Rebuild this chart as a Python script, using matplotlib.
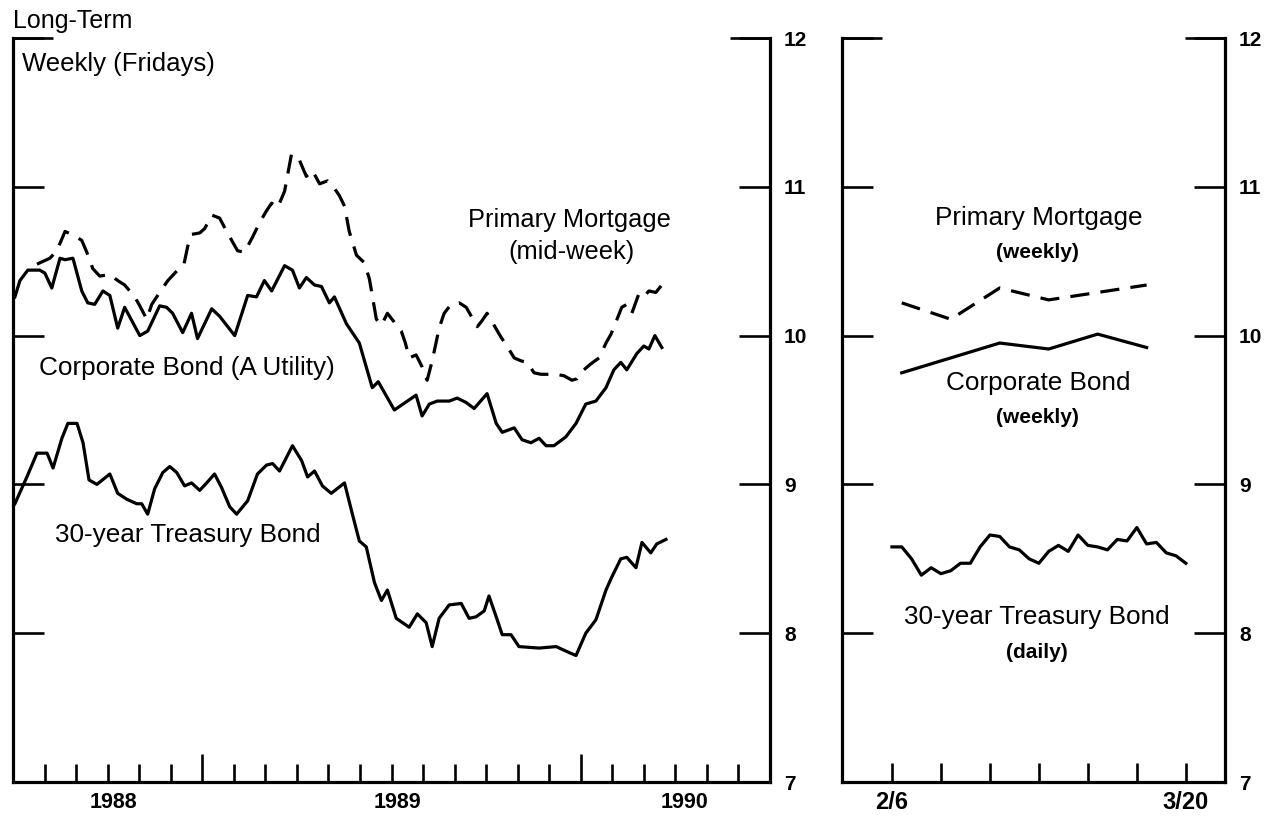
import matplotlib
matplotlib.use('Agg')
import matplotlib.pyplot as plt

plt.rcParams['font.family'] = ['Liberation Sans', 'DejaVu Sans']

# ── left panel: weekly, x = months since 1 Jul 1988 ──────────────
tsy_m = [0.06, 0.44, 0.76, 1.08, 1.27, 1.55, 1.74, 2.03, 2.22, 2.41, 2.66, 3.07,
         3.32, 3.61, 3.92, 4.08, 4.27, 4.49, 4.75, 4.97, 5.19, 5.44, 5.66, 5.92,
         6.14, 6.39, 6.61, 6.87, 7.09, 7.44, 7.75, 8.04, 8.23, 8.45, 8.86, 9.15,
         9.34, 9.56, 9.81, 10.09, 10.51, 10.76, 10.98, 11.20, 11.46, 11.68, 11.87,
         12.15, 12.56, 12.82, 13.10, 13.29, 13.51, 13.83, 14.21, 14.46, 14.68,
         14.94, 15.09, 15.32, 15.51, 15.79, 16.04, 16.68, 17.22, 17.63, 17.85,
         18.16, 18.48, 18.80, 18.99, 19.27, 19.46, 19.75, 19.94, 20.22, 20.41, 20.70]
tsy_v = [8.87, 9.05, 9.21, 9.21, 9.11, 9.31, 9.41, 9.41, 9.28, 9.03, 9.00, 9.07,
         8.94, 8.90, 8.87, 8.87, 8.80, 8.97, 9.08, 9.12, 9.08, 8.99, 9.01, 8.96,
         9.01, 9.07, 8.98, 8.85, 8.80, 8.89, 9.07, 9.13, 9.14, 9.09, 9.26, 9.16,
         9.05, 9.09, 8.99, 8.94, 9.01, 8.80, 8.62, 8.58, 8.34, 8.22, 8.29,
         8.10, 8.04, 8.13, 8.07, 7.91, 8.10, 8.19, 8.20, 8.10, 8.11,
         8.15, 8.25, 8.11, 7.99, 7.99, 7.91, 7.90, 7.91, 7.87, 7.85,
         8.00, 8.09, 8.29, 8.38, 8.50, 8.51, 8.44, 8.61, 8.54, 8.60, 8.63]

corp_m = [0.06, 0.22, 0.47, 0.85, 1.01, 1.23, 1.49, 1.65, 1.90, 2.18, 2.37, 2.59,
          2.85, 3.07, 3.32, 3.54, 4.02, 4.27, 4.65, 4.87, 5.06, 5.38, 5.66, 5.85,
          6.30, 6.55, 7.03, 7.44, 7.72, 7.97, 8.20, 8.61, 8.86, 9.08, 9.30, 9.56,
          9.78, 10.03, 10.19, 10.57, 10.98, 11.39, 11.58, 12.09, 12.78, 12.97,
          13.20, 13.45, 13.83, 14.08, 14.37, 14.62, 15.03, 15.32, 15.51, 15.89,
          16.14, 16.42, 16.68, 16.90, 17.15, 17.53, 17.85, 18.16, 18.48, 18.80,
          19.05, 19.27, 19.46, 19.78, 20.00, 20.16, 20.35, 20.57]
corp_v = [10.26, 10.37, 10.44, 10.44, 10.42, 10.32, 10.52, 10.51, 10.52, 10.30, 10.22, 10.21,
          10.30, 10.27, 10.05, 10.19, 10.00, 10.03, 10.20, 10.19, 10.15, 10.02, 10.15, 9.98,
          10.18, 10.13, 10.00, 10.27, 10.26, 10.37, 10.30, 10.47, 10.44, 10.32, 10.39, 10.34,
          10.33, 10.22, 10.26, 10.08, 9.95, 9.65, 9.69, 9.50, 9.60, 9.46,
          9.54, 9.56, 9.56, 9.58, 9.55, 9.51, 9.61, 9.41, 9.35, 9.38,
          9.30, 9.28, 9.31, 9.26, 9.26, 9.32, 9.41, 9.54, 9.56, 9.65,
          9.77, 9.82, 9.77, 9.88, 9.93, 9.91, 10.00, 9.92]

mort_m = [0.76, 1.17, 1.39, 1.65, 1.96, 2.18, 2.34, 2.53, 2.75, 3.07, 3.32, 3.54,
          3.86, 4.02, 4.24, 4.40, 4.65, 4.91, 5.22, 5.41, 5.54, 5.66, 5.92, 6.08,
          6.30, 6.55, 6.80, 7.12, 7.34, 7.59, 7.82, 8.04, 8.20, 8.39, 8.61, 8.83,
          9.08, 9.30, 9.49, 9.72, 9.97, 10.19, 10.35, 10.51, 10.66, 10.89, 11.14,
          11.30, 11.52, 11.68, 11.87, 12.09, 12.31, 12.44, 12.56, 12.78, 12.97,
          13.13, 13.29, 13.51, 13.67, 13.89, 14.15, 14.37, 14.53, 14.72, 14.87,
          15.03, 15.25, 15.47, 15.66, 15.89, 16.11, 16.30, 16.52, 16.74, 16.99,
          17.22, 17.47, 17.72, 17.88, 18.10, 18.32, 18.58, 18.80, 18.96, 19.15,
          19.30, 19.46, 19.62, 19.84, 20.00, 20.16, 20.38, 20.57]
mort_v = [10.48, 10.52, 10.57, 10.70, 10.67, 10.64, 10.56, 10.45, 10.40, 10.41, 10.37, 10.34,
          10.26, 10.20, 10.11, 10.21, 10.29, 10.37, 10.44, 10.47, 10.60, 10.68, 10.69, 10.72,
          10.81, 10.79, 10.69, 10.57, 10.56, 10.66, 10.76, 10.84, 10.89, 10.86, 10.97, 11.22,
          11.18, 11.07, 11.11, 11.02, 11.04, 10.99, 10.94, 10.87, 10.70, 10.54, 10.49,
          10.38, 10.11, 10.07, 10.15, 10.09, 10.03, 9.95, 9.85, 9.87, 9.79,
          9.70, 9.83, 10.05, 10.15, 10.21, 10.22, 10.19, 10.13, 10.06, 10.10,
          10.15, 10.07, 9.99, 9.93, 9.85, 9.83, 9.82, 9.75, 9.74, 9.74,
          9.74, 9.73, 9.70, 9.71, 9.77, 9.81, 9.85, 9.95, 10.01, 10.11,
          10.19, 10.21, 10.15, 10.28, 10.26, 10.30, 10.29, 10.34]

# ── right panel: trading days from 2/6/1990 ──────────────────────
tsy_daily = [8.58, 8.58, 8.50, 8.39, 8.44, 8.40, 8.42, 8.47, 8.47, 8.58, 8.66,
             8.65, 8.58, 8.56, 8.50, 8.47, 8.55, 8.59, 8.55, 8.66, 8.59, 8.58,
             8.56, 8.63, 8.62, 8.71, 8.60, 8.61, 8.54, 8.52, 8.47]
week_day = [1, 6, 11, 16, 21, 26]
mort_weekly = [10.22, 10.11, 10.32, 10.24, 10.29, 10.34]
corp_weekly = [9.75, 9.85, 9.95, 9.91, 10.01, 9.92]

year_labels = ['1988', '1989', '1990']
year_pos = [3.2, 12.2, 21.3]
day_ticks = [0, 5, 10, 15, 20, 25, 30]
day_labels = ['2/6', '', '', '', '', '', '3/20']
y_ticks = [7, 8, 9, 10, 11, 12]

LW = 2.3
DASH = (0, (6, 3.5))
BIG = 18.8

fig = plt.figure(figsize=(12.79, 8.19), dpi=100)
ax1 = fig.add_axes([13/1279, 37/819, 757/1279, 744/819])
ax2 = fig.add_axes([842/1279, 37/819, 383/1279, 744/819])

for ax in (ax1, ax2):
    ax.set_ylim(7, 12)
    ax.spines['top'].set_visible(False)
    for s in ('left', 'right', 'bottom'):
        ax.spines[s].set_linewidth(2.3)
    ax.yaxis.remove_overlapping_locs = False
    ax.set_yticks(y_ticks)
    ax.set_yticks([12], minor=True)
    ax.tick_params(axis='y', which='major', direction='in', length=22, width=1.9,
                   left=True, right=True, labelleft=False, labelright=True,
                   labelsize=15, pad=10)
    ax.tick_params(axis='y', which='minor', direction='in', length=29, width=1.9,
                   left=True, right=True, labelleft=False, labelright=False)
    for lab in ax.get_yticklabels():
        lab.set_fontweight('bold')

# left panel axis
ax1.set_xlim(0, 24)
ax1.set_xticks([6, 18])
ax1.set_xticks([m for m in range(1, 24) if m not in (6, 18)], minor=True)
ax1.tick_params(axis='x', which='major', direction='in', length=20, width=1.9, labelbottom=False)
ax1.tick_params(axis='x', which='minor', direction='in', length=13, width=1.9, labelbottom=False)
for lab, pos in zip(year_labels, year_pos):
    ax1.text(pos, -0.028, lab, transform=ax1.get_xaxis_transform(),
             ha='center', va='center', fontsize=15.5, fontweight='bold')

ax1.plot(mort_m, mort_v, color='black', lw=LW, linestyle=DASH)
ax1.plot(corp_m, corp_v, color='black', lw=LW)
ax1.plot(tsy_m, tsy_v, color='black', lw=LW)

ax1.text(17.63, 10.78, 'Primary Mortgage', ha='center', va='center', fontsize=18.3)
ax1.text(17.72, 10.56, '(mid-week)', ha='center', va='center', fontsize=18.3)
ax1.text(5.5, 9.78, 'Corporate Bond (A Utility)', ha='center', va='center', fontsize=BIG)
ax1.text(5.54, 8.66, '30-year Treasury Bond', ha='center', va='center', fontsize=BIG)

# right panel axis
ax2.set_xlim(-5.1, 34)
ax2.set_xticks(day_ticks)
ax2.tick_params(axis='x', which='major', direction='in', length=14, width=1.9, labelbottom=False)
for lab, pos in zip(day_labels, day_ticks):
    if lab:
        ax2.text(pos, -0.028, lab, transform=ax2.get_xaxis_transform(),
                 ha='center', va='center', fontsize=17, fontweight='bold')

ax2.plot(week_day, mort_weekly, color='black', lw=LW, linestyle=DASH)
ax2.plot(week_day, corp_weekly, color='black', lw=LW)
ax2.plot(range(len(tsy_daily)), tsy_daily, color='black', lw=LW)

ax2.text(15.0, 10.79, 'Primary Mortgage', ha='center', va='center', fontsize=BIG)
ax2.text(14.9, 10.56, '(weekly)', ha='center', va='center', fontsize=15, fontweight='bold')
ax2.text(14.9, 9.68, 'Corporate Bond', ha='center', va='center', fontsize=BIG)
ax2.text(14.9, 9.45, '(weekly)', ha='center', va='center', fontsize=15, fontweight='bold')
ax2.text(14.8, 8.11, '30-year Treasury Bond', ha='center', va='center', fontsize=BIG)
ax2.text(14.8, 7.87, '(daily)', ha='center', va='center', fontsize=15, fontweight='bold')

fig.text(13/1279, 1 - 21/819, 'Long-Term', ha='left', va='center', fontsize=18)
fig.text(22/1279, 1 - 64/819, 'Weekly (Fridays)', ha='left', va='center', fontsize=18.5)

fig.savefig('out.png', dpi=100, facecolor='white')
